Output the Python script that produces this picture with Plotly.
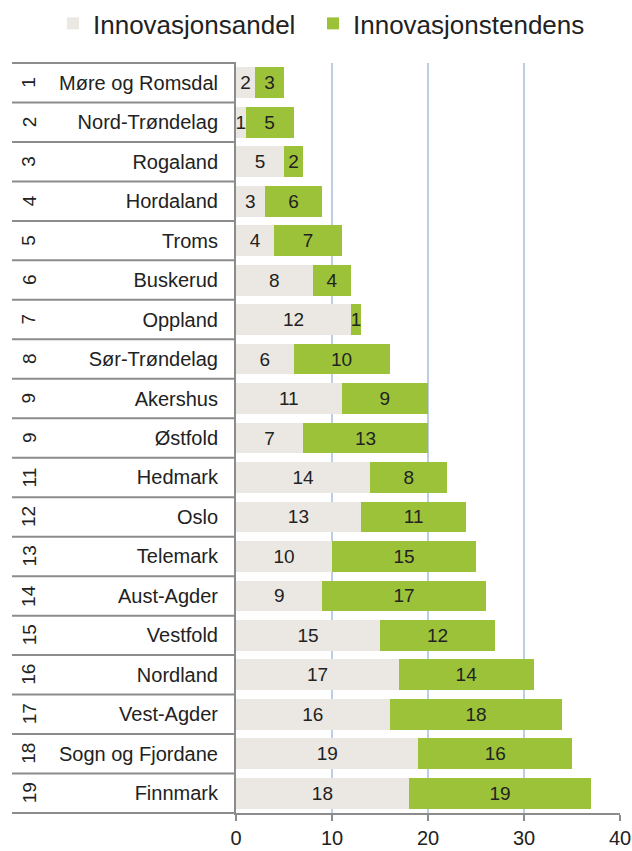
import plotly.graph_objects as go

names = ["Møre og Romsdal", "Nord-Trøndelag", "Rogaland", "Hordaland", "Troms",
         "Buskerud", "Oppland", "Sør-Trøndelag", "Akershus", "Østfold", "Hedmark",
         "Oslo", "Telemark", "Aust-Agder", "Vestfold", "Nordland", "Vest-Agder",
         "Sogn og Fjordane", "Finnmark"]
ranks = [1, 2, 3, 4, 5, 6, 7, 8, 9, 9, 11, 12, 13, 14, 15, 16, 17, 18, 19]
andel = [2, 1, 5, 3, 4, 8, 12, 6, 11, 7, 14, 13, 10, 9, 15, 17, 16, 19, 18]
tendens = [3, 5, 2, 6, 7, 4, 1, 10, 9, 13, 8, 11, 15, 17, 12, 14, 18, 16, 19]
x_ticks = [0, 10, 20, 30, 40]

W, H = 632, 851
ML, MR, MT, MB = 236, 12, 63, 38
plot_w = W - ML - MR
FONT = "Liberation Sans, Arial, sans-serif"
LINE = "#8c8c8c"

fig = go.Figure()
fig.add_trace(go.Bar(
    y=names, x=andel, orientation="h", name="Innovasjonsandel",
    marker=dict(color="#ebe8e3", line=dict(width=0)),
    text=andel, textposition="inside", insidetextanchor="middle",
    textfont=dict(size=19, color="#222222", family=FONT), legend="legend",
))
fig.add_trace(go.Bar(
    y=names, x=tendens, orientation="h", name="Innovasjonstendens",
    marker=dict(color="#9cc23a", line=dict(width=0)),
    text=tendens, textposition="inside", insidetextanchor="middle",
    textfont=dict(size=19, color="#222222", family=FONT), legend="legend2",
))

n = len(names)
left_px = 12
x_left = (left_px - ML) / plot_w
shapes = []
for k in range(n):
    yp = 1 - k / n
    shapes.append(dict(type="line", xref="paper", yref="paper",
                       x0=x_left, x1=0, y0=yp, y1=yp,
                       line=dict(color=LINE, width=2)))
shapes.append(dict(type="line", xref="paper", yref="paper",
                   x0=x_left, x1=0, y0=0, y1=0,
                   line=dict(color=LINE, width=2)))

annotations = []
for nm, r in zip(names, ranks):
    annotations.append(dict(
        xref="paper", yref="y", x=(29 - ML) / plot_w, y=nm,
        text=str(r), showarrow=False, textangle=-90,
        font=dict(size=19, color="#222222", family=FONT),
        xanchor="center", yanchor="middle"))

leg_common = dict(orientation="h", xref="container", yref="container",
                  xanchor="left", yanchor="top",
                  font=dict(size=26, color="#222222", family=FONT),
                  bgcolor="rgba(0,0,0,0)", borderwidth=0)

fig.update_layout(
    width=W, height=H,
    margin=dict(l=ML, r=MR, t=MT, b=MB, autoexpand=False),
    paper_bgcolor="white", plot_bgcolor="white",
    barmode="stack", bargap=0.22,
    font=dict(family=FONT, color="#222222"),
    shapes=shapes, annotations=annotations,
    uniformtext=dict(minsize=19, mode="show"),
    showlegend=True,
    legend=dict(x=53 / W, y=1.0, **leg_common),
    legend2=dict(x=313 / W, y=1.0, **leg_common),
    xaxis=dict(range=[0, 40], tickvals=x_ticks, ticktext=[str(v) for v in x_ticks],
               showgrid=True, gridcolor="#bccde6", gridwidth=1.5,
               zeroline=False, showline=True, linecolor=LINE, linewidth=2,
               ticks="outside", ticklen=6, tickcolor=LINE, tickwidth=1.5,
               tickfont=dict(size=20, color="#222222", family=FONT), fixedrange=True),
    yaxis=dict(categoryorder="array", categoryarray=names, range=[n - 0.5, -0.5],
               showline=True, linecolor=LINE, linewidth=2, showgrid=False,
               ticks="outside", ticklen=12, tickcolor="rgba(0,0,0,0)",
               tickfont=dict(size=20, color="#222222", family=FONT), fixedrange=True),
)

fig.write_html("out.html", config={"displayModeBar": False},
               post_script="document.body.style.margin='0';document.body.style.padding='0';")
